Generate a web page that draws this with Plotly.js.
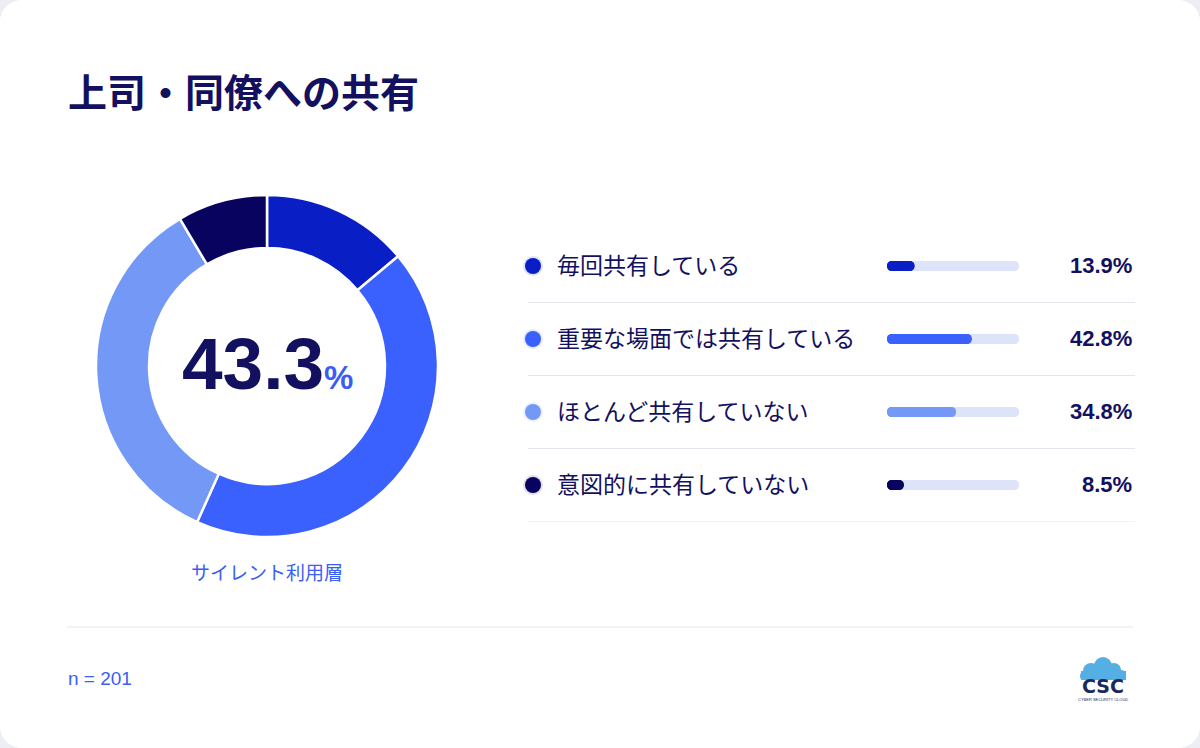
<!DOCTYPE html>
<html>
<head>
<meta charset="utf-8">
<script src="https://cdn.plot.ly/plotly-3.0.1.min.js"></script>
<style>
  html, body { margin: 0; padding: 0; background: #eceef3; }
  #chart { width: 1200px; height: 748px; border-radius: 22px; overflow: hidden; background: #fff; }
</style>
</head>
<body>
<div id="chart"></div>
<script>
// ---- data ----
const categories = ["毎回共有している", "重要な場面では共有している", "ほとんど共有していない", "意図的に共有していない"];
const values = [13.9, 42.8, 34.8, 8.5];
const colors = ["#0A1EC6", "#3A60FD", "#7398F6", "#08035F"];
const centerValue = 43.3;
const centerLabel = "サイレント利用層";
const titleText = "上司・同僚への共有";
const sampleNote = "n = 201";
const barScaleMax = 100 / 1.5;

// ---- helpers (pixel -> paper) ----
const W = 1200, H = 748;
const px = x => x / W;
const py = y => 1 - y / H;
const NAVY = "#12105F";
const BLUE = "#3A5EF5";
const JP = "Noto Sans CJK JP, sans-serif";
const LAT = "Liberation Sans, Arial, sans-serif";

function hexA(hex, a) {
  const r = parseInt(hex.slice(1, 3), 16), g = parseInt(hex.slice(3, 5), 16), b = parseInt(hex.slice(5, 7), 16);
  return `rgba(${r},${g},${b},${a})`;
}

const donut = {
  type: "pie",
  labels: categories,
  values: values,
  hole: 0.69,
  sort: false,
  direction: "clockwise",
  rotation: 0,
  marker: { colors: colors, line: { color: "#ffffff", width: 2.5 } },
  textinfo: "none",
  hoverinfo: "label+percent",
  showlegend: false,
  domain: { x: [px(96), px(438)], y: [py(537), py(195)] }
};

// pill-shaped bars: each bar is drawn twice over the same span, once growing
// rightwards from 0 and once leftwards from its value, so both ends are rounded
function pill(vals, color, hover) {
  const common = {
    type: "bar", orientation: "h", y: categories,
    xaxis: "x2", yaxis: "y2", width: 0.14, showlegend: false,
    marker: { color: color, cornerradius: 5 }
  };
  return [
    Object.assign({}, common, { base: vals, x: vals.map(v => -v), hoverinfo: "skip" }),
    Object.assign({}, common, { base: vals.map(() => 0), x: vals, hoverinfo: hover ? undefined : "skip",
      hovertemplate: hover ? "%{y}: %{x}%<extra></extra>" : undefined })
  ];
}

const trackTraces = pill(categories.map(() => barScaleMax), "#DDE4FA", false);
const fillTraces = pill(values, colors, true);

const dots = {
  type: "scatter",
  mode: "markers",
  y: categories,
  x: categories.map(() => px(533)),
  xaxis: "x3", yaxis: "y2",
  marker: { size: 16, color: colors, line: { width: 4, color: colors.map(c => hexA(c, 0.13)) } },
  hoverinfo: "skip",
  showlegend: false
};

const annotations = [
  { xref: "paper", yref: "paper", x: px(66), y: py(90), xanchor: "left", yanchor: "middle",
    text: "<b>" + titleText + "</b>", showarrow: false, font: { family: JP, size: 39, color: NAVY } },
  { xref: "paper", yref: "paper", x: px(267), y: py(363), xanchor: "center", yanchor: "middle",
    text: "<b>" + centerValue.toFixed(1) + "<span style=\"font-size:33px;color:" + BLUE + "\">%</span></b>",
    showarrow: false, font: { family: LAT, size: 73, color: NAVY } },
  { xref: "paper", yref: "paper", x: px(267), y: py(571), xanchor: "center", yanchor: "middle",
    text: centerLabel, showarrow: false, font: { family: JP, size: 19, color: BLUE } },
  { xref: "paper", yref: "paper", x: px(66), y: py(678), xanchor: "left", yanchor: "middle",
    text: sampleNote, showarrow: false, font: { family: LAT, size: 19, color: BLUE } },
  { xref: "paper", yref: "paper", x: px(1103), y: py(686), xanchor: "center", yanchor: "middle",
    text: "<b>CSC</b>", showarrow: false, font: { family: "DejaVu Sans, sans-serif", size: 19, color: "#1B2A5C" } },
  { xref: "paper", yref: "paper", x: px(1103), y: py(699), xanchor: "center", yanchor: "middle",
    text: "CYBER SECURITY CLOUD", showarrow: false, font: { family: LAT, size: 4, color: "#1B2A5C" } }
];

categories.forEach((c, i) => {
  annotations.push({ xref: "paper", yref: "y2", x: px(555), y: c, yshift: 2, xanchor: "left", yanchor: "middle",
    text: c, showarrow: false, font: { family: JP, size: 23, color: NAVY } });
  annotations.push({ xref: "paper", yref: "y2", x: px(1134), y: c, yshift: 1, xanchor: "right", yanchor: "middle",
    text: "<b>" + values[i].toFixed(1) + "%</b>", showarrow: false, font: { family: LAT, size: 22, color: NAVY } });
});

const shapes = [];
for (let i = 0; i < categories.length; i++) {
  shapes.push({ type: "line", xref: "paper", yref: "y2", x0: px(528), x1: px(1135), y0: i + 0.5, y1: i + 0.5,
    line: { color: "#E5E7EE", width: 1 } });
}
shapes.push({ type: "line", xref: "paper", yref: "paper", x0: px(67), x1: px(1133), y0: py(627), y1: py(627),
  line: { color: "#E5E7EE", width: 1 } });

// logo cloud
const cloud = [[1091, 671, 8], [1103, 666, 9], [1114, 670, 7], [1121, 675, 5], [1084, 676, 4]];
cloud.forEach(([cx, cy, r]) => {
  shapes.push({ type: "circle", xref: "paper", yref: "paper", x0: px(cx - r), x1: px(cx + r), y0: py(cy + r), y1: py(cy - r),
    fillcolor: "#55AEE4", line: { width: 0 } });
});
shapes.push({ type: "rect", xref: "paper", yref: "paper", x0: px(1081), x1: px(1126), y0: py(680), y1: py(671),
  fillcolor: "#55AEE4", line: { width: 0 } });

const layout = {
  width: W, height: H,
  margin: { l: 0, r: 0, t: 0, b: 0 },
  paper_bgcolor: "#ffffff",
  plot_bgcolor: "rgba(0,0,0,0)",
  barmode: "overlay",
  barcornerradius: 5,
  showlegend: false,
  xaxis2: { domain: [px(887), px(1019)], range: [0, barScaleMax], visible: false, anchor: "y2", fixedrange: true },
  yaxis2: { domain: [py(521.5), py(229.5)], type: "category", range: [3.5, -0.5], visible: false, anchor: "x2", fixedrange: true },
  xaxis3: { domain: [0, 1], range: [0, 1], visible: false, anchor: "y2", fixedrange: true },
  xaxis: { visible: false }, yaxis: { visible: false },
  annotations: annotations,
  shapes: shapes
};

Plotly.newPlot("chart", [donut].concat(trackTraces, fillTraces, [dots]), layout, { displayModeBar: false, staticPlot: true });
</script>
</body>
</html>
